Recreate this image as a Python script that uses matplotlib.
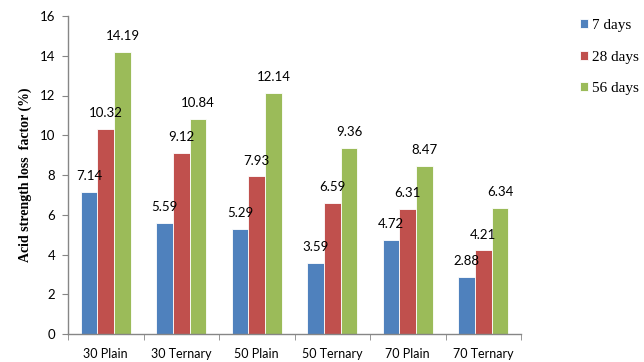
import numpy as np
import matplotlib.pyplot as plt

# Mix designs and acid strength loss factor (%) per curing age
mixes = ["30 Plain", "30 Ternary", "50 Plain", "50 Ternary", "70 Plain", "70 Ternary"]
days_7 = [7.14, 5.59, 5.29, 3.59, 4.72, 2.88]
days_28 = [10.32, 9.12, 7.93, 6.59, 6.31, 4.21]
days_56 = [14.19, 10.84, 12.14, 9.36, 8.47, 6.34]
series_names = ["7 days", "28 days", "56 days"]
colors = ["#4F81BD", "#C0504D", "#9BBB59"]

fig = plt.figure(figsize=(6.44, 3.62), dpi=100)
ax = fig.add_axes([68 / 644, 28 / 362, (521 - 68) / 644, (334 - 16) / 362])

x = np.arange(len(mixes))
w = 1 / 4.5
for i, (vals, name, c) in enumerate(zip([days_7, days_28, days_56], series_names, colors)):
    pos = x + (i - 1) * w
    ax.bar(pos, vals, width=w, color=c, edgecolor="white", linewidth=0.6, label=name, zorder=2)
    for xp, v in zip(pos, vals):
        ax.annotate(f"{v:.2f}", (xp, v), xytext=(0, 7), textcoords="offset points",
                    ha="center", va="bottom", fontsize=9.5, family="Lato")

ax.set_xlim(-0.5, len(mixes) - 0.5)
ax.set_ylim(0, 16)
ax.set_yticks(range(0, 17, 2))
ax.set_xticks(x)
ax.set_xticklabels(mixes)
ax.set_xticks(np.arange(-0.5, len(mixes), 1), minor=True)
ax.tick_params(axis="x", which="major", length=0, pad=10)
ax.tick_params(axis="x", which="minor", length=4, color="#868686")
ax.tick_params(axis="y", length=4, color="#868686", pad=5)
for lab in ax.get_xticklabels():
    lab.set_family("Lato")
    lab.set_fontsize(9)
for lab in ax.get_yticklabels():
    lab.set_family("Lato")
    lab.set_fontsize(9.5)

for s in ["top", "right"]:
    ax.spines[s].set_visible(False)
for s in ["left", "bottom"]:
    ax.spines[s].set_color("#868686")
    ax.spines[s].set_linewidth(1)

ax.set_ylabel("Acid strength loss  factor (%)", family="Liberation Serif",
              fontweight="bold", fontsize=10, labelpad=6)

ax.legend(loc="upper left", bbox_to_anchor=(566 / 644, 0.985), bbox_transform=fig.transFigure,
          frameon=False, prop={"family": "Liberation Serif", "size": 11},
          handlelength=0.55, handleheight=0.55, handletextpad=0.25, labelspacing=1.2)

fig.savefig("out.png", dpi=100)
